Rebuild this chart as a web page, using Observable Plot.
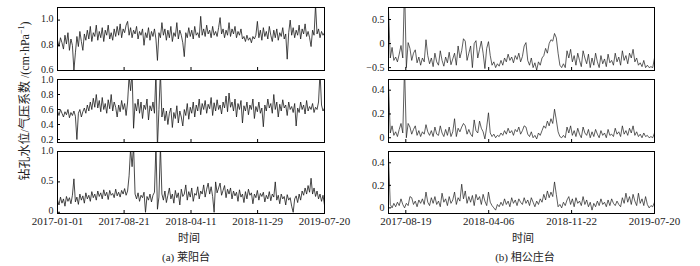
<!DOCTYPE html>
<html><head><meta charset="utf-8">
<script src="https://cdn.jsdelivr.net/npm/d3@7"></script>
<script src="https://cdn.jsdelivr.net/npm/@observablehq/plot@0.6"></script>
<style>
body{margin:0;background:#fff;}
#fig{position:relative;width:700px;height:266px;font-family:"Liberation Serif","Noto Sans CJK SC",serif;color:#222;}
#fig svg{position:absolute;}
.lbl{position:absolute;font-size:11px;line-height:12px;white-space:nowrap;transform:translateX(-50%);}
.ylab{position:absolute;font-size:12px;line-height:14px;white-space:nowrap;transform:translate(-50%,-50%) rotate(-90deg);}
</style></head><body><div id="fig"></div>
<script>
// ---- x axis ticks (day index from the left edge) ----
const leftSpan = 930;
const leftTickDays = [0, 232, 465, 697, 930];
const leftTickLabels = ["2017-01-01","2017-08-21","2018-04-11","2018-11-29","2019-07-20"];
const rightSpan = 738;
const rightTickDays = [48, 278, 508, 738];
const rightTickLabels = ["2017-08-19","2018-04-06","2018-11-22","2019-07-20"];

// ---- (a) 莱阳台 ----
const laiyang1 = [
0.84,0.79,0.86,0.82,0.77,0.88,0.81,0.9,0.76,0.85,0.8,0.6,0.74,0.87,0.79,0.91,0.83,0.76,0.89,0.84,
0.92,0.85,0.95,0.83,0.9,0.87,0.96,0.84,0.91,0.86,0.94,0.83,0.92,0.88,0.96,0.85,0.9,0.84,0.93,0.87,
0.95,0.88,0.97,0.86,0.93,0.9,0.96,0.99,0.88,0.94,0.86,0.92,0.89,0.95,0.85,0.91,0.88,0.93,0.8,0.9,
0.86,0.94,0.84,0.91,0.87,0.93,0.85,0.68,0.9,0.86,0.98,0.88,0.93,0.84,0.92,0.86,0.95,0.83,0.9,0.87,
0.98,0.85,0.92,0.88,0.82,0.71,0.9,0.86,0.94,0.87,0.92,0.85,0.95,0.88,0.9,0.86,1.03,0.88,0.93,0.87,
0.96,0.89,0.92,0.86,0.95,0.88,0.91,0.87,0.94,1.02,0.89,0.93,0.86,0.92,0.88,0.98,0.87,0.93,0.89,0.95,
0.86,0.91,0.88,0.93,0.85,0.87,0.83,0.88,0.84,0.86,0.82,0.87,0.85,0.88,0.99,0.86,0.92,0.84,0.94,0.87,
0.91,0.85,0.95,0.88,0.83,0.92,0.86,0.93,0.84,0.9,0.87,0.94,0.85,0.89,0.69,0.9,1.0,0.88,0.94,0.86,
0.92,0.88,0.96,0.85,0.93,0.89,0.97,0.87,0.91,0.86,0.79,0.92,0.88,1.12,0.89,0.93,0.86,0.91,0.88,0.9];
const laiyang2 = [
0.58,0.52,0.6,0.55,0.5,0.57,0.53,0.6,0.49,0.56,0.52,0.58,0.51,0.2,0.55,0.6,0.5,0.57,0.62,0.55,
0.66,0.58,0.7,0.6,0.75,0.63,0.8,0.62,0.72,0.57,0.76,0.6,0.68,0.55,0.73,0.61,0.8,0.58,0.7,0.63,
0.5,0.66,0.57,0.72,0.6,0.68,0.52,0.7,1.05,0.85,1.1,0.35,0.68,0.58,0.74,0.55,0.7,0.48,0.66,0.6,
0.74,0.46,0.65,0.58,0.7,0.55,1.1,0.1,0.6,1.1,0.5,0.62,0.45,0.58,0.4,0.55,0.62,0.36,0.56,0.48,
0.65,0.42,0.58,0.5,0.38,0.6,0.52,0.68,0.47,0.63,0.55,0.7,0.5,0.66,0.58,0.74,0.53,0.68,0.6,0.72,
0.55,0.67,0.61,0.76,0.52,0.69,0.58,0.73,0.6,0.66,0.54,0.7,0.62,0.78,0.57,0.82,0.63,0.7,0.58,0.74,
0.5,0.68,0.6,0.72,0.42,0.65,0.58,0.7,0.53,0.66,0.6,0.74,0.48,0.64,0.57,0.7,0.55,0.62,0.37,0.66,
0.58,0.74,0.62,0.68,0.55,0.8,0.6,0.7,0.5,0.67,0.58,0.73,0.62,0.66,0.52,0.7,0.6,0.64,0.56,0.68,
0.38,0.62,0.56,0.7,0.6,0.66,0.54,0.72,0.58,0.64,0.6,0.68,0.56,0.63,0.6,0.7,1.1,0.66,0.58,0.62];
const laiyang3 = [
0.2,0.12,0.25,0.15,0.22,0.1,0.26,0.18,0.24,0.14,0.28,0.55,0.17,0.25,0.13,0.3,0.2,0.27,0.15,0.32,
0.22,0.28,0.18,0.34,0.24,0.3,0.2,0.35,0.26,0.32,0.22,0.37,0.27,0.33,0.21,0.36,0.28,0.31,0.24,0.38,
0.27,0.33,0.25,0.36,0.3,0.39,0.28,0.35,0.6,1.05,0.75,1.1,0.3,0.22,0.32,0.18,0.28,0.24,0.33,0.0,
0.26,0.2,0.3,0.17,0.28,0.33,1.1,0.05,0.25,1.1,0.3,0.2,0.35,0.16,0.28,0.4,0.22,0.3,0.15,0.36,
0.24,0.32,0.12,0.38,0.26,0.3,0.45,0.2,0.34,0.25,0.4,0.18,0.31,0.28,0.42,0.22,0.35,0.3,0.45,0.25,
0.38,0.48,0.3,0.42,0.26,0.0,0.5,0.32,0.4,0.48,0.28,0.36,0.44,0.24,0.38,0.3,0.4,0.22,0.35,0.27,
0.33,0.18,0.37,0.25,0.3,0.16,0.34,0.22,0.38,0.28,0.32,0.14,0.3,0.24,0.36,0.2,0.31,0.26,0.33,0.17,
0.28,0.22,0.34,0.19,0.3,0.25,0.5,0.2,0.28,0.14,0.3,0.22,0.26,0.12,0.29,0.2,0.24,0.1,0.0,0.22,
0.27,0.16,0.3,0.2,0.35,0.28,0.4,0.3,0.44,0.33,0.56,0.3,0.4,0.26,0.35,0.22,0.3,0.18,0.28,0.12];

// ---- (b) 相公庄台 ----
const xianggong1 = [
0.7,-0.3,-0.08,-0.35,-0.28,-0.38,-0.22,-0.04,-0.3,1.2,-0.5,
0.02,-0.1,-0.35,-0.2,-0.13,-0.4,-0.28,-0.45,-0.3,-0.38,0.08,-0.25,
-0.42,-0.3,-0.48,-0.2,-0.38,-0.45,-0.15,-0.35,-0.47,-0.28,-0.4,-0.18,-0.44,-0.32,
-0.2,-0.45,-0.05,-0.3,-0.15,0.1,0.05,-0.35,
-0.2,-0.05,-0.5,0.0,0.06,-0.3,-0.12,0.05,-0.2,-0.52,-0.1,0.04,-0.25,
-0.45,-0.38,-0.5,-0.42,-0.47,-0.35,-0.45,
-0.3,-0.38,-0.22,-0.35,-0.28,-0.4,-0.25,-0.33,-0.2,-0.38,-0.27,-0.05,
0.02,-0.35,-0.45,-0.3,-0.5,-0.4,-0.55,-0.38,-0.45,
-0.3,-0.25,-0.1,-0.2,0.0,0.08,0.05,0.21,
0.12,-0.2,-0.45,-0.5,-0.42,-0.5,
-0.15,-0.3,-0.12,-0.38,-0.25,-0.45,-0.2,-0.35,-0.48,-0.15,-0.3,-0.42,-0.22,-0.5,
-0.3,-0.45,-0.2,-0.38,-0.5,-0.25,-0.42,-0.32,-0.48,-0.22,-0.4,-0.35,-0.45,-0.2,-0.38,
-0.28,-0.45,-0.15,-0.35,-0.25,-0.42,-0.2,-0.3,-0.12,-0.38,-0.3,
-0.45,-0.4,-0.48,-0.35,-0.5,-0.45,-0.5,-0.48,-0.5,-0.3];
const xianggong2 = [
0.45,0.04,0.1,0.02,0.05,0.01,0.07,0.12,0.04,0.6,0.0,
0.12,0.09,0.03,0.07,0.1,0.02,0.06,0.01,0.05,0.03,0.11,0.05,
0.02,0.06,0.01,0.09,0.03,0.02,0.1,0.04,0.01,0.07,0.02,0.09,0.01,0.05,
0.16,0.01,0.08,0.05,0.09,0.12,0.1,0.03,
0.07,0.03,0.01,0.15,0.06,0.04,0.14,0.08,0.05,-0.01,0.09,0.21,0.04,
0.01,0.03,0.0,0.02,0.01,0.04,0.02,
0.06,0.03,0.08,0.04,0.06,0.02,0.07,0.05,0.09,0.03,0.06,0.1,
0.09,0.03,0.01,0.05,0.0,0.02,-0.01,0.04,0.02,
0.06,0.1,0.08,0.14,0.1,0.16,0.12,0.24,
0.15,0.05,0.01,0.0,0.02,0.0,
0.09,0.04,0.1,0.02,0.06,0.01,0.08,0.03,0.0,0.09,0.04,0.02,0.07,0.0,
0.05,0.01,0.07,0.03,0.0,0.06,0.02,0.04,0.0,0.07,0.02,0.03,0.01,0.08,0.03,
0.05,0.01,0.1,0.03,0.06,0.02,0.08,0.04,0.1,0.02,0.05,
0.01,0.03,0.0,0.04,0.01,0.02,0.0,0.01,0.0,0.04];
const xianggong3 = [
0.45,0.03,0.0,0.04,0.01,0.05,0.02,0.08,0.03,0.0,0.04,
0.02,0.1,0.09,0.03,0.06,0.01,0.07,0.04,0.08,0.03,0.14,0.05,
0.02,0.09,0.04,0.1,0.03,0.06,0.01,0.13,0.05,0.08,0.02,0.1,0.04,0.07,
0.14,0.03,0.09,0.06,0.21,0.08,0.15,0.04,
0.1,0.05,0.11,0.02,0.12,0.07,0.1,0.03,0.12,0.06,0.02,0.14,0.05,
0.02,0.0,-0.02,0.03,0.01,0.05,0.02,
0.08,0.03,0.06,0.01,0.09,0.04,0.07,0.02,0.08,0.05,0.03,0.09,
0.04,0.07,0.02,0.09,0.05,0.01,0.06,0.03,0.08,
0.05,0.12,0.07,0.15,0.09,0.14,0.1,0.23,
0.12,0.01,0.03,0.0,0.05,0.02,
0.07,0.1,0.03,0.08,0.01,0.09,0.04,0.06,0.02,0.1,0.03,0.07,0.01,0.05,
-0.02,0.04,0.01,0.06,0.02,0.08,0.03,0.05,0.01,0.07,0.02,0.08,0.04,0.02,0.06,
0.03,0.01,0.09,0.04,0.13,0.05,0.1,0.03,0.12,0.06,0.02,
0.13,0.04,0.08,0.02,0.1,0.03,0.0,0.02,0.01,0.05];

// ---- y axes ----
const yDomains = {
  l1: [0.6, 1.1], l2: [0.16, 1.0], l3: [-0.02, 1.0],
  r1: [-0.56, 0.75], r2: [-0.04, 0.49], r3: [-0.05, 0.5]
};
const yTicks = {
  l1: [0.6, 0.8, 1.0], l2: [0.2, 0.4, 0.6, 0.8, 1.0], l3: [0, 0.5, 1.0],
  r1: [-0.5, 0, 0.5], r2: [0, 0.2, 0.4], r3: [0, 0.2, 0.4]
};
const yTickLabels = {
  l1: ["0.6","0.8","1.0"], l2: ["0.2","0.4","0.6","0.8","1.0"], l3: ["0","0.5","1.0"],
  r1: ["\u22120.5","0","0.5"], r2: ["0","0.2","0.4"], r3: ["0","0.2","0.4"]
};

const fig = document.getElementById("fig");
const rows = [[7,70],[79,142],[151,213]];
const cols = [{colLeft:0, fl:57, fr:324, sw:0.8}, {colLeft:340, fl:388, fr:654, sw:0.7}];
const yLabelShift = {l1: -1, l2: 0, l3: -1, r1: 0, r2: 0, r3: 0};

function panel(values, span, xt, xl, key, col, row, showX) {
  const {colLeft, fl, fr, sw} = cols[col];
  const [ft, fb] = rows[row];
  const mt = 5, mb = showX ? 22 : 5, mr = 40;
  const ml = fl - colLeft;
  const W = fr - colLeft + mr, H = fb - ft + mt + mb;
  const fw = fr - fl, fh = fb - ft;
  const yt = yTicks[key], yl = yTickLabels[key];
  const data = values.map((v, i) => ({t: i * span / (values.length - 1), v}));
  const marks = [
    Plot.lineY(data, {x: "t", y: "v", stroke: "#1a1a1a", strokeWidth: sw, clip: true}),
    Plot.tickX(xt, {x: d => d, insetTop: fh - 3, stroke: "#000"}),
    Plot.tickY(yt, {y: d => d, insetRight: fw - 3, stroke: "#000"}),
    Plot.axisY({ticks: yt, label: null, tickSize: 0, tickPadding: 4, fontSize: 10, dy: yLabelShift[key], tickFormat: d => yl[yt.indexOf(d)]}),
    Plot.frame({stroke: "#000", strokeWidth: 1})
  ];
  if (showX) marks.push(Plot.axisX({ticks: xt, label: null, tickSize: 0, tickPadding: 4, fontSize: 11, tickFormat: d => xl[xt.indexOf(d)]}));
  const svg = Plot.plot({
    width: W, height: H, marginLeft: ml, marginRight: mr, marginTop: mt, marginBottom: mb,
    x: {domain: [0, span], label: null, ...(showX ? {} : {axis: null})},
    y: {domain: yDomains[key], label: null},
    style: {background: "none", overflow: "visible", fontFamily: "'Liberation Serif', serif", fontSize: "11px", color: "#222"},
    marks
  });
  svg.style.left = colLeft + "px";
  svg.style.top = (ft - mt) + "px";
  fig.appendChild(svg);
}

panel(laiyang1, leftSpan, leftTickDays, leftTickLabels, "l1", 0, 0, false);
panel(laiyang2, leftSpan, leftTickDays, leftTickLabels, "l2", 0, 1, false);
panel(laiyang3, leftSpan, leftTickDays, leftTickLabels, "l3", 0, 2, true);
panel(xianggong1, rightSpan, rightTickDays, rightTickLabels, "r1", 1, 0, false);
panel(xianggong2, rightSpan, rightTickDays, rightTickLabels, "r2", 1, 1, false);
panel(xianggong3, rightSpan, rightTickDays, rightTickLabels, "r3", 1, 2, true);

function label(text, cx, cy) {
  const d = document.createElement("div");
  d.className = "lbl";
  d.textContent = text;
  d.style.left = cx + "px";
  d.style.top = (cy - 6) + "px";
  fig.appendChild(d);
}
label("时间", 189, 238);
label("时间", 523, 238);
label("(a) 莱阳台", 186, 257);
label("(b) 相公庄台", 525, 257);
const yl = document.createElement("div");
yl.className = "ylab";
yl.innerHTML = "钻孔水位/气压系数 /(cm·hPa<sup style='font-size:8px;line-height:0'>−1</sup>)";
yl.style.left = "25px";
yl.style.top = "101px";
fig.appendChild(yl);
</script>
</body></html>
